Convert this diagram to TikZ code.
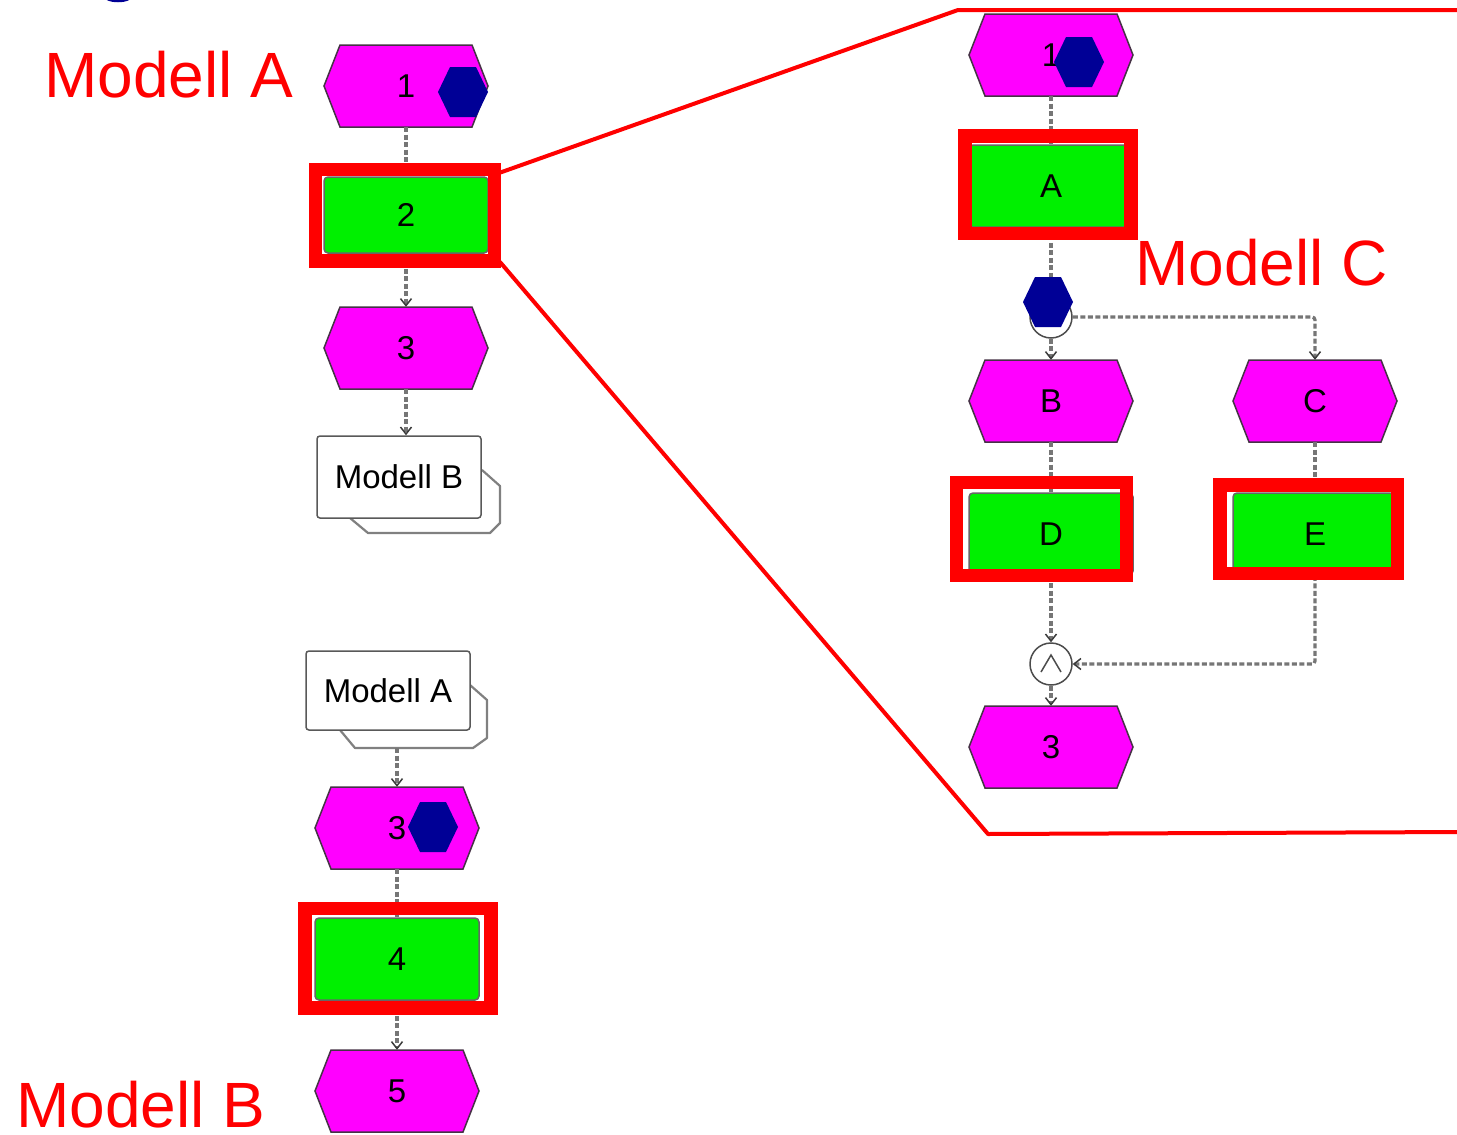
\documentclass[tikz,border=0pt]{standalone}
\usepackage{fontspec}
\setmainfont{Liberation Sans}
\usetikzlibrary{arrows.meta}
\definecolor{evmag}{RGB}{255,0,255}
\definecolor{fngreen}{RGB}{0,240,0}
\definecolor{navyhex}{RGB}{0,0,150}
\definecolor{conngray}{RGB}{118,118,118}
\definecolor{tipgray}{RGB}{60,60,60}
\definecolor{outl}{RGB}{70,50,70}
\newcommand\evnode[4]{%
  \draw[evshape] (#2-82,#3) -- (#2-66,#3-41) -- (#2+66,#3-41) -- (#2+82,#3)
    -- (#2+66,#3+41) -- (#2-66,#3+41) -- cycle;
  \node[evtxt] (#1) at (#2,#3) {\raisebox{-3pt}{#4}};}
\newcommand\bhex[2]{%
  \fill[navyhex] (#1-25,#2) -- (#1-13,#2-25) -- (#1+13,#2-25) -- (#1+25,#2)
    -- (#1+13,#2+25) -- (#1-13,#2+25) -- cycle;}
\begin{document}
\begin{tikzpicture}[x=1pt,y=-1pt,
  lbl/.style={font=\fontsize{33}{33}\selectfont},
  evtxt/.style={rectangle, minimum width=164pt, minimum height=82pt, inner sep=0pt, lbl},
  evshape/.style={fill=evmag, draw=outl, line width=1.5pt, line join=miter},
  func/.style={rectangle, rounded corners=4pt, fill=fngreen, draw=black!60, line width=1.5pt,
    minimum width=164pt, minimum height=80pt, inner sep=0pt, lbl},
  iface/.style={rectangle, rounded corners=3pt, fill=white, draw=black!65, line width=1.5pt,
    minimum width=164pt, minimum height=82pt, inner sep=0pt, lbl},
  ifback/.style={draw=black!50, line width=2.2pt, line join=round},
  gate/.style={circle, draw=black!70, line width=1.5pt, fill=white, minimum size=42pt, inner sep=0pt},
  redframe/.style={draw=red, line width=13.5pt},
  zoomline/.style={draw=red, line width=4pt, line join=round},
  conn/.style={draw=conngray, line width=3.2pt, dash pattern=on 5pt off 2.5pt},
  arr/.style={-{Straight Barb[length=7pt,width=11pt,line width=1.5pt,color=tipgray]}},
  bighead/.style={text=red, font=\fontsize{64}{64}\selectfont, anchor=base west, inner sep=0pt}]
\useasboundingbox[fill=white] (0,0) rectangle (1457,1135);
\draw[navyhex, line width=2pt] (107,-1) .. controls (112,2) and (124,2) .. (129,-1);

% ---------- Modell A (left top)
\evnode{h1}{406}{86}{1}
\node[func, minimum height=76pt] (f2) at (406,215) {2};
\evnode{h3}{406}{348}{3}
\draw[ifback] (482,470) -- (500,486) -- (500,523) -- (490,533) -- (368,533) -- (350,518);
\node[iface] (mB) at (399,477) {Modell B};

% ---------- Modell B (left bottom)
\draw[ifback] (470,685) -- (487,700) -- (487,738) -- (473,748) -- (355,748) -- (340,730);
\node[iface, minimum height=79pt] (mA) at (388,690.5) {Modell A};
\coordinate (mAbot) at (397,748);
\evnode{hb3}{397}{828}{3}
\node[func, minimum height=82pt] (f4) at (397,959) {4};
\evnode{h5}{397}{1091}{5}

% ---------- Modell C (right)
\evnode{r1}{1051}{55}{1}
\node[func, minimum height=82pt] (fA) at (1051,186) {A};
\node[gate] (xg) at (1051,317) {};
\evnode{rB}{1051}{401}{B}
\evnode{rC}{1315}{401}{C}
\node[func, minimum height=82pt] (fD) at (1051,534) {D};
\node[func, minimum height=82pt] (fE) at (1315,534) {E};
\node[gate] (ag) at (1051,664) {};
\draw[black!70, line width=1.5pt, line join=miter] (ag.center) ++(-10,8) -- ++(10,-17) -- ++(10,17);
\evnode{r3}{1051}{747}{3}

% ---------- connectors
\draw[conn] (h1.south) -- (f2.north);
\draw[conn,arr] (f2.south) -- (h3.north);
\draw[conn,arr] (h3.south) -- (h3.south |- mB.north);
\draw[conn,arr] (mAbot) -- (mAbot |- hb3.north);
\draw[conn] (hb3.south) -- (f4.north);
\draw[conn,arr] (f4.south) -- (h5.north);

\draw[conn] (r1.south) -- (fA.north);
\draw[conn] (fA.south) -- (xg.north);
\draw[conn,arr] (xg.south) -- (rB.north);
\draw[conn,arr,rounded corners=3pt] (xg.east) -| (rC.north);
\draw[conn] (rB.south) -- (fD.north);
\draw[conn] (rC.south) -- (fE.north);
\draw[conn,arr] (fD.south) -- (ag.north);
\draw[conn,arr,rounded corners=3pt] (fE.south) |- (ag.east);
\draw[conn,arr] (ag.south) -- (r3.north);

% ---------- red frames
\draw[redframe] (315.5,169.5) rectangle (494.5,261);
\draw[redframe] (305,908.5) rectangle (491,1008);
\draw[redframe] (965,136) rectangle (1131,233.5);
\draw[redframe] (956.5,482.5) rectangle (1126.5,575.5);
\draw[redframe] (1220,485) rectangle (1397.5,573.5);

% ---------- blue hexagons
\bhex{463}{92}
\bhex{1079}{62}
\bhex{1048}{302}
\bhex{433}{827}

% ---------- zoom lines
\coordinate (z1) at (499,173);
\coordinate (zt) at (958,10);
\coordinate (ztr) at (1462,10);
\coordinate (z2) at (500,262);
\coordinate (zb) at (988,834);
\coordinate (zbr) at (1462,832);
\draw[zoomline] (z1) -- (zt) -- (ztr);
\draw[zoomline] (z2) -- (zb) -- (zbr);

% ---------- headings
\node[bighead] (labA) at (44,97) {Modell A};
\node[bighead] (labC) at (1135,285) {Modell C};
\node[bighead] (labB) at (16,1127) {Modell B};
\end{tikzpicture}
\end{document}
